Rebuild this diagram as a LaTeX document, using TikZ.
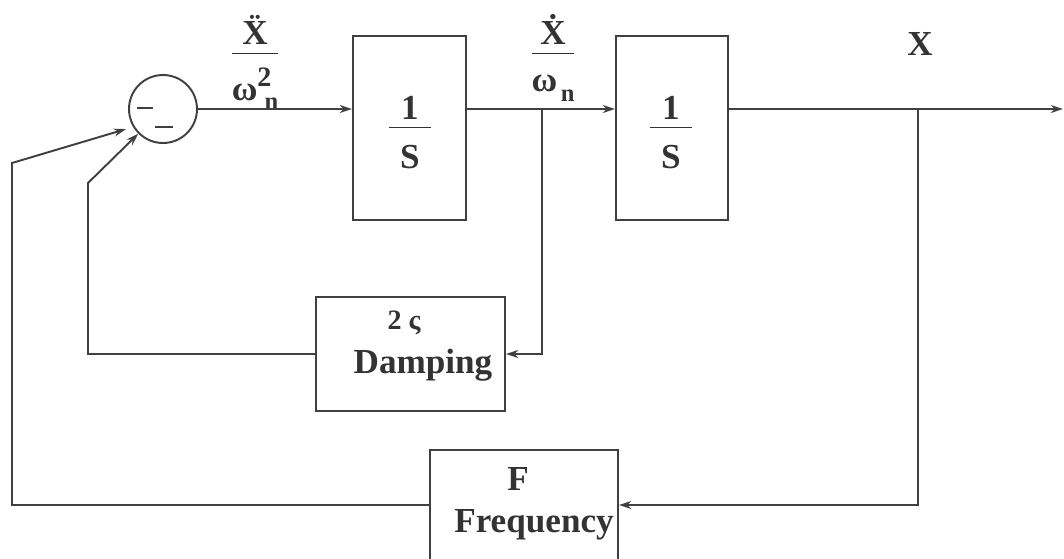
\documentclass[tikz,border=0pt]{standalone}
\usepackage{fontspec}
\setmainfont{Liberation Serif}
\usetikzlibrary{positioning,arrows.meta}
\newcommand{\subsz}{\fontsize{14}{14}\selectfont}
\newcommand{\onebys}{$\displaystyle\frac{\raisebox{-4.5pt}{\makebox[24pt]{1}}}{\raisebox{-4.5pt}{S}}$}

\begin{document}
\begin{tikzpicture}[
    x=0.02cm, y=-0.02cm,
    font=\fontsize{20}{24}\selectfont\bfseries,
    every node/.style = {text=black!80},
    block/.style = {
        rectangle,
        draw=black!75,
        line width=1.1pt,
        inner sep=0pt
    },
    sumnode/.style = {
        circle,
        draw=black!75,
        line width=1.1pt,
        minimum size=1.36cm,
        inner sep=0pt
    },
    lbl/.style = {
        anchor=base,
        inner sep=0pt
    },
    arrow/.style = {
        -{Stealth[length=7pt,width=4.5pt]},
        line width=1.1pt,
        draw=black!75
    }
]
\useasboundingbox (0,0) rectangle (1064,558);

\node (sum) [sumnode] at (163,109) {};
\draw [line width=1.1pt, draw=black!75] (137,108) -- (153,108);
\draw [line width=1.1pt, draw=black!75] (155,127) -- (173,127);

\node (int1) [block, minimum width=2.26cm, minimum height=3.68cm] at (409.5,128) {};
\node (int1t) [lbl] at (410,136) {\onebys};
\node (int2) [block, minimum width=2.24cm, minimum height=3.68cm] at (672,128) {};
\node (int2t) [lbl] at (671,136) {\onebys};

\node (damp) [block, minimum width=3.78cm, minimum height=2.28cm] at (410.5,354) {};
\node (dampk) [lbl] at (404,329) {\fontsize{16}{16}\selectfont 2 ς};
\node (dampt) [lbl] at (423,373) {Damping};

\node (freq) [block, minimum width=3.76cm, minimum height=2.2cm] at (524,505) {};
\node (freqk) [lbl] at (518,490) {F};
\node (freqt) [lbl] at (534,532) {Frequency};

\node (acc) [lbl] at (255,62) {$\displaystyle\frac{\raisebox{-3.8pt}{\"X}}{\raisebox{-7.9pt}{ω\rlap{\raisebox{8pt}{\fontsize{16}{16}\selectfont 2}}\hspace{4pt}\raisebox{-5pt}{\subsz n}}}$};
\node (vel) [lbl] at (553,62) {$\displaystyle\frac{\raisebox{-3.8pt}{\.X}}{\raisebox{-2.3pt}{ω\hspace{2pt}\raisebox{-5.7pt}{\subsz n}}}$};
\node (pos) [lbl] at (920,55) {X};

\coordinate (v) at (542,109);
\coordinate (x) at (918,109);
\coordinate (out) at (1063,109);
\coordinate (dk) at (88,183);
\coordinate (fk) at (12,163);

\draw [arrow] (sum.east) -- (sum.east -| int1.west);
\draw [arrow] (int1.east |- sum.east) -- (int2.west |- sum.east);
\draw [arrow] (int2.east |- sum.east) -- (out);
\draw [arrow] (v) |- (damp.east);
\draw [arrow] (damp.west) -| (dk) -- (sum.225);
\draw [arrow] (x) |- (freq.east);
\draw [arrow] (freq.west) -| (fk) -- ([shift={(-3pt,-3pt)}]sum.205);

\end{tikzpicture}
\end{document}
